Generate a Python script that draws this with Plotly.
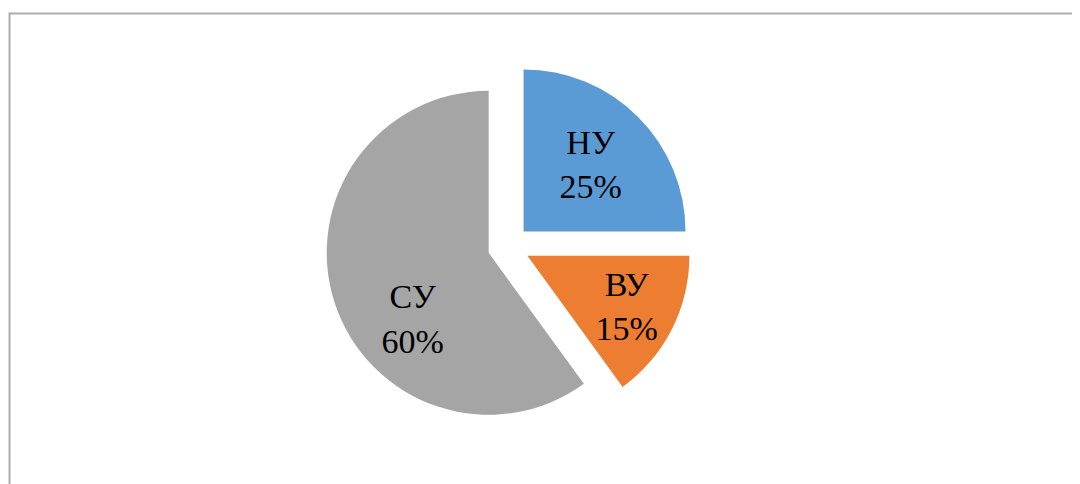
import plotly.graph_objects as go

labels = ["НУ", "ВУ", "СУ"]
values = [25, 15, 60]
colors = ["#5B9BD5", "#ED7D31", "#A5A5A5"]
pulls = [0.13, 0.13, 0.13]
PAD = "\u00a0" * 4
label_templates = [
    "%{label}<br>%{percent:.0%}",
    "%{label}<br>%{percent:.0%}",
    "\u00a0<br>\u00a0<br>\u00a0<br>%{label}" + PAD + "<br>%{percent:.0%}" + PAD,
]

W, H = 1080, 484
OFF = 8                        # page body margin in the browser
cx, cy = 508.7 - OFF, 246.3 - OFF   # pie centre in px (from top-left)
D = 366                        # domain size in px (includes pull room)

fig = go.Figure(go.Pie(
    labels=labels,
    values=values,
    marker=dict(colors=colors, line=dict(width=0)),
    pull=pulls,
    sort=False,
    direction="clockwise",
    rotation=0,
    texttemplate=label_templates,
    textposition="inside",
    insidetextorientation="horizontal",
    textfont=dict(family="Liberation Serif, Times New Roman, serif", size=34, color="#000000"),
    showlegend=False,
    hoverinfo="skip",
    domain=dict(
        x=[(cx - D / 2) / W, (cx + D / 2) / W],
        y=[1 - (cy + D / 2) / H, 1 - (cy - D / 2) / H],
    ),
))

fig.update_layout(
    width=W,
    height=H,
    margin=dict(l=0, r=0, t=0, b=0),
    paper_bgcolor="#FFFFFF",
    plot_bgcolor="#FFFFFF",
    uniformtext=dict(minsize=34, mode="show"),
    shapes=[dict(
        type="rect", xref="paper", yref="paper",
        x0=(9.5 - OFF) / W, x1=1.05, y0=-0.05, y1=1 - (13.5 - OFF) / H,
        line=dict(color="#ADADAD", width=2), fillcolor="rgba(0,0,0,0)",
        layer="above",
    )],
)

fig.write_html("out.html")
